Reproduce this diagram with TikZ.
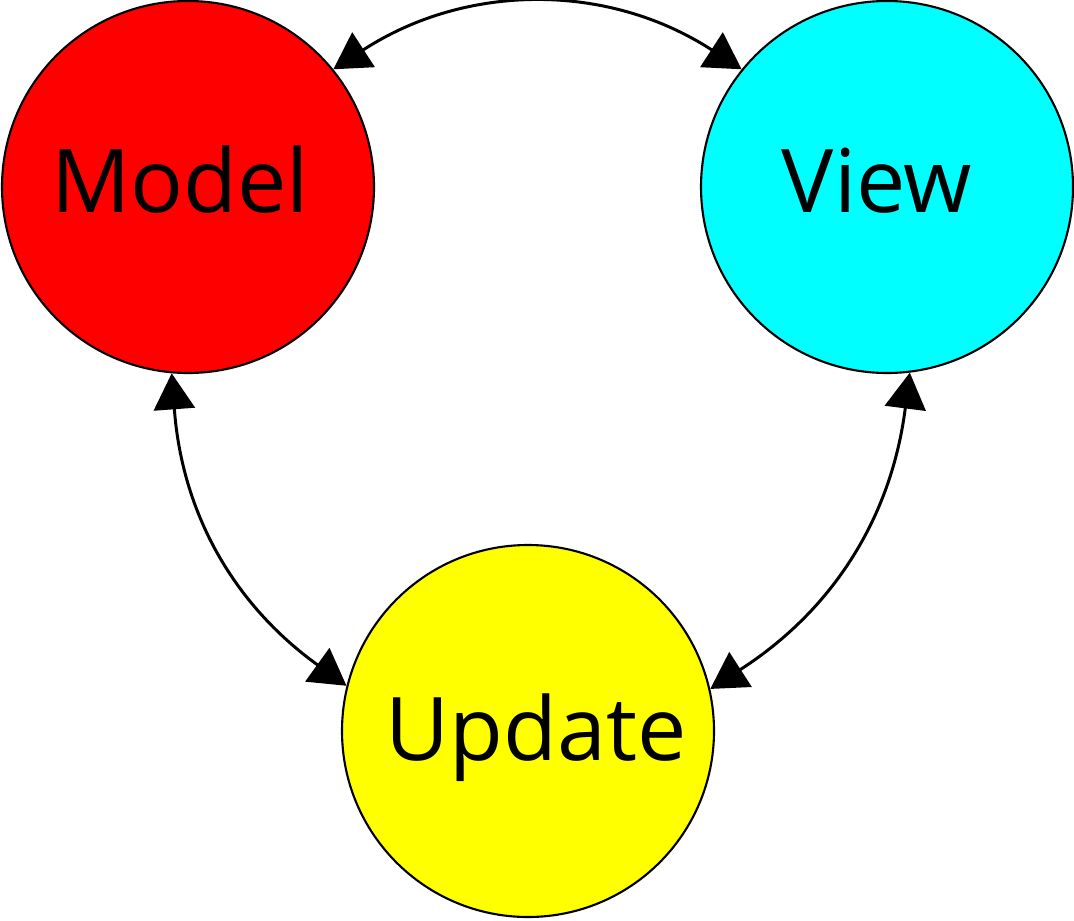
\documentclass[tikz,border=0pt]{standalone}
\usepackage{fontspec}
\setmainfont{Open Sans}
\usetikzlibrary{arrows.meta}
\definecolor{modelred}{RGB}{255,0,0}
\definecolor{viewcyan}{RGB}{0,255,255}
\definecolor{updateyellow}{RGB}{255,255,0}
\tikzset{
    >={Triangle[length=3.6mm, width=4.1mm]},
    part/.style={shape=circle, draw=black, line width=0.6pt, minimum size=3.72cm, inner sep=0pt},
    partname/.style={inner sep=0pt, font=\fontsize{25}{30}\selectfont, text height=0.64cm, text depth=0pt},
    link/.style={<->, line width=0.85pt},
}

\begin{document}
\begin{tikzpicture}
            \useasboundingbox (0,0) rectangle (10.74,9.2);
            \node[part, fill=modelred] (model) at (1.88,7.33) {};
            \node[part, fill=viewcyan] (view) at (8.87,7.33) {};
            \node[part, fill=updateyellow] (update) at (5.28,1.89) {};
            \node[partname] (model_txt) at (1.80,7.40) {Model};
            \node[partname] (view_txt) at (8.77,7.40) {View};
            \node[partname] (update_txt) at (5.36,1.92) {Update};
            % connections between the three parts
            \draw[link] (model.39) to[bend left=33] (view.141);
            \draw[link] (model.265) to[bend right=25] (update.166);
            \draw[link] (view.-83) to[bend left=25] (update.13);
\end{tikzpicture}
\end{document}
